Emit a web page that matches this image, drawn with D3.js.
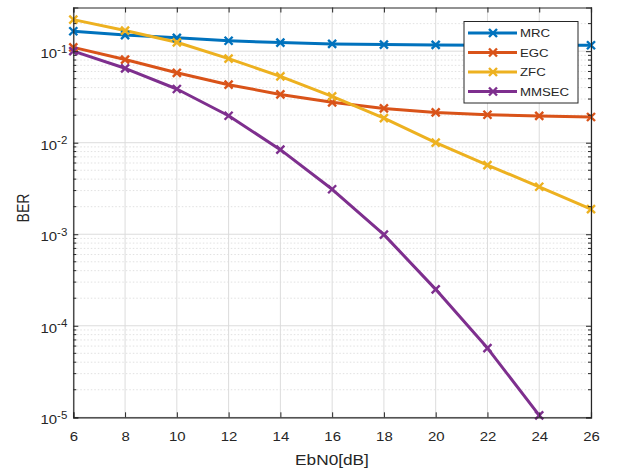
<!DOCTYPE html>
<html><head><meta charset="utf-8">
<script src="https://cdn.jsdelivr.net/npm/d3@7"></script>
<style>
html,body{margin:0;padding:0;background:#fff;}
text{font-family:"Liberation Sans",Arial,Helvetica,sans-serif;fill:#262626;}
</style></head>
<body>
<svg id="chart" width="619" height="472"></svg>
<script>
const ebn0 = [6, 8, 10, 12, 14, 16, 18, 20, 22, 24, 26];
const berMRC = [0.165, 0.150, 0.140, 0.130, 0.124, 0.120, 0.118, 0.117, 0.116, 0.116, 0.116];
const berEGC = [0.110, 0.081, 0.058, 0.043, 0.0337, 0.0276, 0.0237, 0.0214, 0.0202, 0.0196, 0.0191];
const berZFC = [0.221, 0.168, 0.125, 0.083, 0.053, 0.032, 0.0186, 0.0100, 0.0057, 0.0033, 0.00188];
const berMMSEC = [0.100, 0.065, 0.0386, 0.0197, 0.0084, 0.0031, 0.00099, 0.00025, 0.000057, 0.0000105];
const seriesNames = ["MRC", "EGC", "ZFC", "MMSEC"];
const xTicks = [6, 8, 10, 12, 14, 16, 18, 20, 22, 24, 26];
const yTickExps = [-5, -4, -3, -2, -1];
const xLabel = "EbN0[dB]";
const yLabel = "BER";

const colors = ["#0072BD", "#D95319", "#EDB120", "#7E2F8E"];
const allSeries = [berMRC, berEGC, berZFC, berMMSEC];
const SX = 1.15; // horizontal stretch of the text in the reference

const svg = d3.select("#chart");
const L = 73.3, R = 591, T = 7.5, B = 417.3;
const x = d3.scaleLinear().domain([6, 26]).range([L, R]);
const y = d3.scaleLog().domain([1e-5, 0.3]).range([B, T]);

svg.append("rect").attr("x", L).attr("y", T).attr("width", R - L).attr("height", B - T).attr("fill", "#fff");

const minor = [];
for (let e = -5; e <= -1; e++) for (let m = 2; m <= 9; m++) { const v = m * Math.pow(10, e); if (v < 0.3) minor.push(v); }

const grid = svg.append("g");
grid.selectAll(".ming").data(minor).join("line")
  .attr("x1", L).attr("x2", R).attr("y1", d => y(d)).attr("y2", d => y(d))
  .attr("stroke", "#d9d9d9").attr("stroke-width", 0.8).attr("stroke-dasharray", "1.5,2");
grid.selectAll(".majy").data(yTickExps).join("line")
  .attr("x1", L).attr("x2", R).attr("y1", d => y(Math.pow(10, d))).attr("y2", d => y(Math.pow(10, d)))
  .attr("stroke", "#dcdcdc").attr("stroke-width", 1);
grid.selectAll(".majx").data(xTicks).join("line")
  .attr("y1", T).attr("y2", B).attr("x1", d => x(d)).attr("x2", d => x(d))
  .attr("stroke", "#dcdcdc").attr("stroke-width", 1);

const line = d3.line().x((d, i) => x(ebn0[i])).y(d => y(d));
const plot = svg.append("g");
allSeries.forEach((s, k) => {
  plot.append("path").datum(s).attr("d", line).attr("fill", "none")
    .attr("stroke", colors[k]).attr("stroke-width", 3).attr("stroke-linejoin", "round");
});
function marker(g, cx, cy, col, r) {
  g.append("path").attr("d", `M${cx - r},${cy - r}L${cx + r},${cy + r}M${cx - r},${cy + r}L${cx + r},${cy - r}`)
    .attr("stroke", col).attr("stroke-width", 2.4).attr("fill", "none");
}
allSeries.forEach((s, k) => {
  s.forEach((v, i) => marker(plot, x(ebn0[i]), y(v), colors[k], 4));
});

const axCol = "#262626";
const xb = svg.append("g").attr("transform", `translate(0,${B})`)
  .call(d3.axisBottom(x).tickValues(xTicks).tickSize(-5).tickPadding(14).tickFormat(d3.format("d")));
const xt = svg.append("g").attr("transform", `translate(0,${T})`)
  .call(d3.axisTop(x).tickValues(xTicks).tickSize(-5).tickFormat(""));
const yl = svg.append("g").attr("transform", `translate(${L},0)`)
  .call(d3.axisLeft(y).tickValues(yTickExps.map(e => Math.pow(10, e))).tickSize(-5).tickFormat(""));
const yr = svg.append("g").attr("transform", `translate(${R},0)`)
  .call(d3.axisRight(y).tickValues(yTickExps.map(e => Math.pow(10, e))).tickSize(-5).tickFormat(""));
[xb, xt, yl, yr].forEach(g => {
  g.select(".domain").attr("stroke", axCol).attr("stroke-width", 1.2);
  g.selectAll(".tick line").attr("stroke", axCol);
});
xb.selectAll(".tick text").attr("font-size", 13).attr("fill", "#333")
  .style("font-family", "Liberation Sans, Arial, sans-serif")
  .attr("transform", `scale(${SX},1)`);
yl.selectAll(".tick text").remove();
[[L, 1], [R, -1]].forEach(([px, dir]) => {
  svg.append("g").selectAll("line").data(minor).join("line")
    .attr("x1", px).attr("x2", px + dir * 3).attr("y1", d => y(d)).attr("y2", d => y(d))
    .attr("stroke", axCol).attr("stroke-width", 1);
});
yl.selectAll(".tick").each(function (d) {
  const t = d3.select(this).append("text").attr("x", -6 / SX).attr("dy", "0.5em")
    .attr("text-anchor", "end").attr("font-size", 13).attr("fill", "#333")
    .attr("transform", `scale(${SX},1)`);
  t.append("tspan").text("10");
  t.append("tspan").attr("dy", "-0.55em").attr("font-size", 10).text(String(Math.round(Math.log10(d))));
});

svg.append("text").attr("transform", `translate(332,465) scale(${SX},1)`).attr("text-anchor", "middle")
  .attr("font-size", 15).attr("fill", "#333").text(xLabel);
svg.append("text").attr("transform", `translate(29,208) scale(${SX},1) rotate(-90)`).attr("text-anchor", "middle")
  .attr("font-size", 14).attr("fill", "#333").text(yLabel);

const lg = svg.append("g");
lg.append("rect").attr("x", 464).attr("y", 21.5).attr("width", 114).attr("height", 81.5)
  .attr("fill", "#fff").attr("stroke", axCol).attr("stroke-width", 1);
const ly = [33, 52.5, 72, 91.5];
seriesNames.forEach((n, k) => {
  lg.append("line").attr("x1", 468).attr("x2", 517).attr("y1", ly[k]).attr("y2", ly[k])
    .attr("stroke", colors[k]).attr("stroke-width", 3);
  marker(lg, 493, ly[k], colors[k], 4);
  lg.append("text").attr("transform", `translate(520,${ly[k]}) scale(${SX},1)`).attr("dy", "0.36em")
    .attr("font-size", 11.5).attr("fill", "#333").text(n);
});
</script>
</body></html>
